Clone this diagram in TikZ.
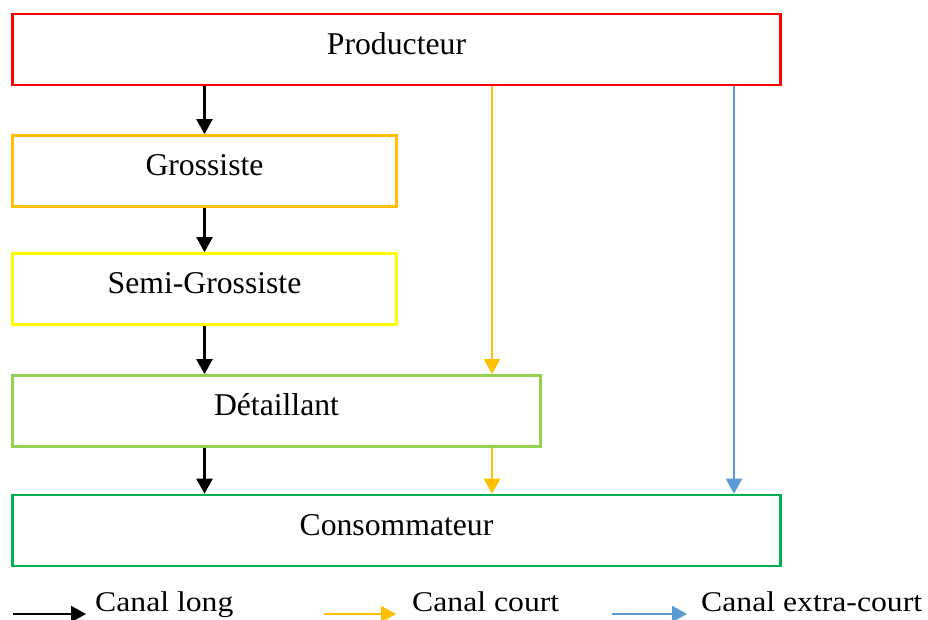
\documentclass[tikz,border=0pt]{standalone}
\usepackage{fontspec}
\setmainfont{Liberation Serif}
\usetikzlibrary{arrows.meta}
\definecolor{cRed}{HTML}{FF0000}
\definecolor{cOrange}{HTML}{FFC000}
\definecolor{cYellow}{HTML}{FFFF00}
\definecolor{cLime}{HTML}{92D050}
\definecolor{cGreen}{HTML}{00B050}
\definecolor{cBlue}{HTML}{5B9BD5}
\tikzset{
  box/.style={draw, line width=2.6pt, inner sep=0pt, minimum height=71pt,
    text height=15pt, text depth=6pt,
    font=\fontsize{31.7}{38}\selectfont},
  flow/.style={line width=2.2pt, -{Triangle[width=16pt,length=15pt]}},
  legtext/.style={anchor=base west, inner sep=0pt, font=\fontsize{31.7}{38}\selectfont}
}
\newcommand{\legword}[1]{\scalebox{1}[0.9]{#1}}
\begin{document}
\begin{tikzpicture}[x=1pt,y=-1pt]
\useasboundingbox (0,0) rectangle (928,619);
% channel boxes
\node[box, draw=cRed,    minimum width=768pt] (prod) at (396.5,49.5)  {Producteur};
\node[box, draw=cOrange, minimum width=384pt] (gros) at (204.5,171)   {Grossiste};
\node[box, draw=cYellow, minimum width=384pt] (semi) at (204.5,289)   {Semi-Grossiste};
\node[box, draw=cLime,   minimum width=528pt] (det)  at (276.5,411)   {Détaillant};
\node[box, draw=cGreen,  minimum width=768pt] (cons) at (396.5,530.5) {Consommateur};
% vertical positions of the short and extra-short channels
\coordinate (xc) at (492,0);
\coordinate (xe) at (734,0);
% long channel
\draw[flow, black] (prod.south -| gros) -- (gros.north);
\draw[flow, black] (gros.south) -- (semi.north);
\draw[flow, black] (semi.south) -- (semi.south |- det.north);
\draw[flow, black] (det.south -| gros) -- (cons.north -| gros);
% short channel
\draw[flow, cOrange] (prod.south -| xc) -- (det.north -| xc);
\draw[flow, cOrange] (det.south -| xc) -- (cons.north -| xc);
% extra-short channel
\draw[flow, cBlue] (prod.south -| xe) -- (cons.north -| xe);
% legend
\coordinate (l1a) at (13,614);  \coordinate (l1b) at (86,614);
\coordinate (l2a) at (324,614); \coordinate (l2b) at (396,614);
\coordinate (l3a) at (612,614); \coordinate (l3b) at (687,614);
\draw[flow, black]   (l1a) -- (l1b);
\draw[flow, cOrange] (l2a) -- (l2b);
\draw[flow, cBlue]   (l3a) -- (l3b);
\node[legtext] (t1) at (95,611.5)  {\legword{Canal long}};
\node[legtext] (t2) at (412,611.5) {\legword{Canal court}};
\node[legtext] (t3) at (701,611.5) {\legword{Canal extra-court}};
\end{tikzpicture}
\end{document}
